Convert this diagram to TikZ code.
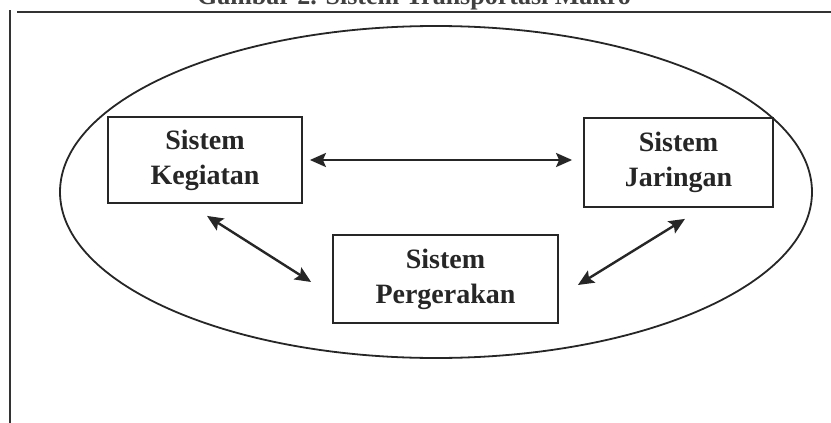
\documentclass[tikz,border=0pt]{standalone}
\usepackage{fontspec}
\setmainfont{Liberation Serif}
\usetikzlibrary{arrows.meta,calc}
\begin{document}
\begin{tikzpicture}[x=1pt,y=-1pt,
  box/.style={draw=black!85,line width=1.8pt,align=center,inner sep=0pt,
    font=\bfseries\fontsize{28}{35}\selectfont,text=black!85},
  arr/.style={draw=black!85,line width=2.4pt,
    {Stealth[length=16pt,width=14pt,inset=3pt]}-{Stealth[length=16pt,width=14pt,inset=3pt]}},
  frameline/.style={draw=black!80,line width=1.8pt},
  titletext/.style={font=\bfseries\fontsize{26}{30}\selectfont,text=black!75}]
\useasboundingbox (0,0) rectangle (831,423);
\fill[white] (0,0) rectangle (831,423);
\node[titletext,anchor=base] (title) at (414,5) {Gambar 2. Sistem Transportasi Makro};
\draw[frameline] (10,10) -- (10,423);
\draw[frameline] (17,12) -- (831,12);
\draw[draw=black!85,line width=1.8pt] (436,192) ellipse [x radius=376, y radius=166];
\node[box,minimum width=194pt,minimum height=86pt] (keg) at (205,160) {Sistem\\Kegiatan};
\node[box,minimum width=189pt,minimum height=89pt] (jar) at (678.5,162.5) {Sistem\\Jaringan};
\node[box,minimum width=225pt,minimum height=88pt] (per) at (445.5,279) {Sistem\\Pergerakan};
\coordinate (h1) at ($(keg.east)+(7,0)$);
\coordinate (h2) at ($(jar.west)+(-11,-2.5)$);
\coordinate (a1) at ($(keg.south)+(2,12)$);
\coordinate (a2) at ($(per.west)+(-21,3)$);
\coordinate (b1) at ($(jar.south)+(6.5,11)$);
\coordinate (b2) at ($(per.east)+(19,6)$);
\draw[arr] (h1) -- (h2);
\draw[arr] (a1) -- (a2);
\draw[arr] (b1) -- (b2);
\end{tikzpicture}
\end{document}
